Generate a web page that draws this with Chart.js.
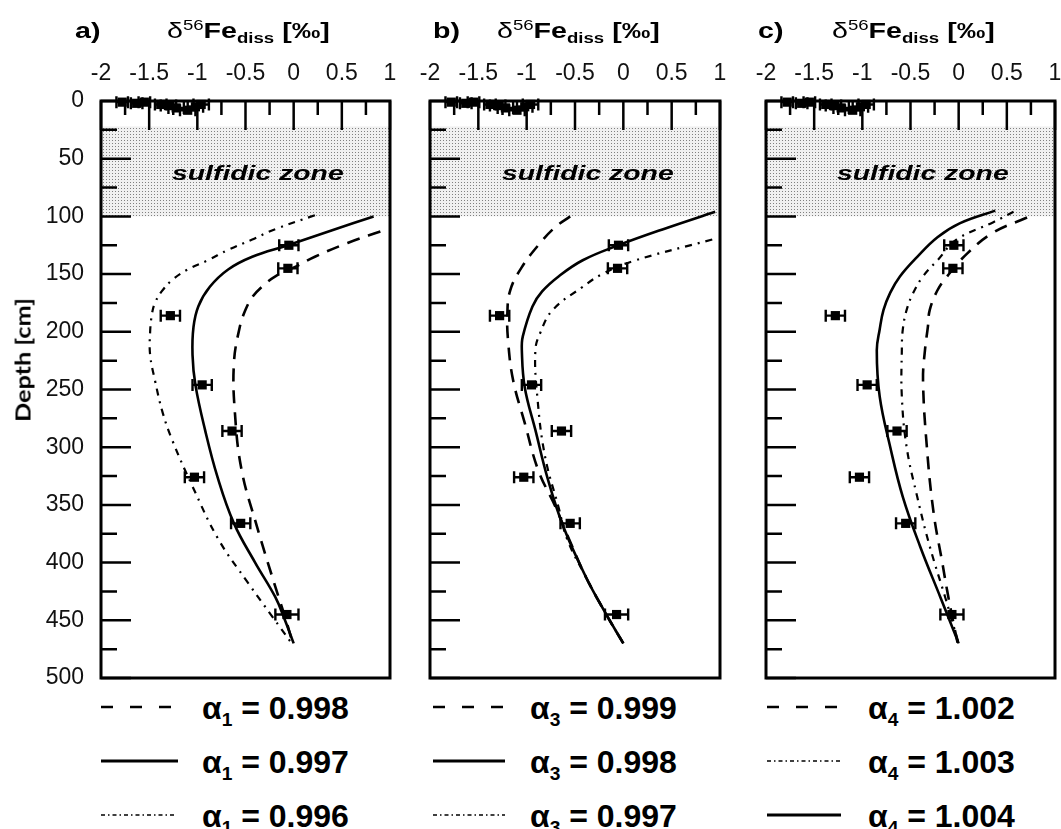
<!DOCTYPE html>
<html>
<head>
<meta charset="utf-8">
<script src="https://cdn.jsdelivr.net/npm/chart.js@4/dist/chart.umd.min.js"></script>
<style>
  body { margin: 0; background: #fff; }
  #wrap { position: relative; width: 1061px; height: 829px; overflow: hidden;
          font-family: "Liberation Sans", Arial, sans-serif; color: #000; }
  canvas { position: absolute; }
  .txt { position: absolute; white-space: nowrap; line-height: 1; transform-origin: 0 0; }
  .ttl { font-size: 22px; font-weight: bold; transform: scaleX(1.3); }
  .ttl sup, .ttl sub { font-size: 0.65em; line-height: 0; }
  .zone { font-size: 21px; font-weight: bold; font-style: italic; transform: scaleX(1.35); }
  .leg { font-size: 32px; font-weight: bold; }
  .leg sub { font-size: 0.6em; line-height: 0; }
  .ylab { font-family: Lato, sans-serif; font-weight: bold; font-size: 21px;
          transform: translate(-50%, -50%) rotate(-90deg) scaleX(1.2); transform-origin: 50% 50%; }
  svg { position: absolute; }
</style>
</head>
<body>
<div id="wrap">
  <canvas id="cA" width="400" height="650" style="left:0;top:40px"></canvas>
  <canvas id="cB" width="330" height="650" style="left:400px;top:40px"></canvas>
  <canvas id="cC" width="325" height="650" style="left:736px;top:40px"></canvas>

  <div class="txt ttl" style="left:75px;top:20px">a)</div>
  <div class="txt ttl" style="left:167px;top:20px"><span style="font-weight:normal">δ<sup>56</sup></span>Fe<sub>diss</sub> [‰]</div>
  <div class="txt ttl" style="left:433px;top:20px">b)</div>
  <div class="txt ttl" style="left:497px;top:20px"><span style="font-weight:normal">δ<sup>56</sup></span>Fe<sub>diss</sub> [‰]</div>
  <div class="txt ttl" style="left:758px;top:20px">c)</div>
  <div class="txt ttl" style="left:832px;top:20px"><span style="font-weight:normal">δ<sup>56</sup></span>Fe<sub>diss</sub> [‰]</div>

  <div class="txt zone" style="left:172px;top:162px">sulfidic zone</div>
  <div class="txt zone" style="left:502px;top:162px">sulfidic zone</div>
  <div class="txt zone" style="left:837px;top:162px">sulfidic zone</div>

  <div class="txt ylab" style="left:22px;top:360px">Depth [cm]</div>

  <!-- legend, panel a -->
  <svg style="left:101px;top:697px" width="80" height="20"><line x1="0" y1="10" x2="70" y2="10" stroke="#000" stroke-width="2.5" stroke-dasharray="12 17"/></svg>
  <svg style="left:101px;top:751px" width="80" height="20"><line x1="0" y1="10" x2="77" y2="10" stroke="#000" stroke-width="3"/></svg>
  <svg style="left:101px;top:805px" width="80" height="20"><line x1="0" y1="10" x2="76" y2="10" stroke="#000" stroke-width="1.5" stroke-dasharray="4 3 1.5 3"/></svg>
  <div class="txt leg" style="left:202px;top:692px">α<sub>1</sub> = 0.998</div>
  <div class="txt leg" style="left:202px;top:746px">α<sub>1</sub> = 0.997</div>
  <div class="txt leg" style="left:202px;top:800px">α<sub>1</sub> = 0.996</div>

  <!-- legend, panel b -->
  <svg style="left:433px;top:697px" width="80" height="20"><line x1="0" y1="10" x2="70" y2="10" stroke="#000" stroke-width="2.5" stroke-dasharray="12 17"/></svg>
  <svg style="left:433px;top:751px" width="80" height="20"><line x1="0" y1="10" x2="72" y2="10" stroke="#000" stroke-width="3"/></svg>
  <svg style="left:433px;top:805px" width="80" height="20"><line x1="0" y1="10" x2="72" y2="10" stroke="#000" stroke-width="1.5" stroke-dasharray="4 3 1.5 3"/></svg>
  <div class="txt leg" style="left:530px;top:692px">α<sub>3</sub> = 0.999</div>
  <div class="txt leg" style="left:530px;top:746px">α<sub>3</sub> = 0.998</div>
  <div class="txt leg" style="left:530px;top:800px">α<sub>3</sub> = 0.997</div>

  <!-- legend, panel c -->
  <svg style="left:767px;top:697px" width="80" height="20"><line x1="0" y1="10" x2="70" y2="10" stroke="#000" stroke-width="2.5" stroke-dasharray="12 17"/></svg>
  <svg style="left:767px;top:751px" width="80" height="20"><line x1="0" y1="10" x2="74" y2="10" stroke="#000" stroke-width="1.5" stroke-dasharray="4 3 1.5 3"/></svg>
  <svg style="left:767px;top:805px" width="80" height="20"><line x1="0" y1="10" x2="74" y2="10" stroke="#000" stroke-width="3"/></svg>
  <div class="txt leg" style="left:868px;top:692px">α<sub>4</sub> = 1.002</div>
  <div class="txt leg" style="left:868px;top:746px">α<sub>4</sub> = 1.003</div>
  <div class="txt leg" style="left:868px;top:800px">α<sub>4</sub> = 1.004</div>
</div>

<script>
// axes
const xTicks = [-2, -1.5, -1, -0.5, 0, 0.5, 1];
const yTicks = [0, 50, 100, 150, 200, 250, 300, 350, 400, 450, 500];
const sulfidicZone = [22, 100]; // depth range, cm

// measured d56Fe_diss (same in every panel)
const obsDepth = [1, 2, 1, 3, 4, 6, 8, 5, 3, 125, 145, 186, 246, 286, 326, 366, 445];
const obsDelta = [-1.78, -1.63, -1.55, -1.38, -1.30, -1.22, -1.10, -1.02, -0.96,
                  -0.05, -0.06, -1.28, -0.95, -0.64, -1.03, -0.55, -0.07];
const obsErr = [0.06, 0.06, 0.06, 0.06, 0.08, 0.08, 0.08, 0.08, 0.08,
                0.1, 0.1, 0.1, 0.1, 0.1, 0.1, 0.1, 0.12];

// a) model curves
const a1_0998_depth = [113, 123, 135, 144, 152, 161, 170, 181, 196, 227, 270, 320, 369, 421, 447, 467];
const a1_0998_delta = [0.9, 0.56, 0.22, 0.01, -0.19, -0.33, -0.43, -0.5, -0.56, -0.62, -0.61, -0.54, -0.38, -0.19, -0.09, -0.02];
const a1_0997_depth = [100, 112, 125, 135, 146, 161, 178, 196, 220, 246, 285, 326, 366, 400, 430, 450, 470];
const a1_0997_delta = [0.83, 0.40, -0.06, -0.43, -0.68, -0.87, -0.99, -1.04, -1.05, -1.02, -0.92, -0.79, -0.62, -0.40, -0.19, -0.09, 0.0];
const a1_0996_depth = [99, 111, 120, 129, 138, 146, 155, 165, 175, 184, 200, 220, 242, 270, 294, 334, 380, 418, 447, 470];
const a1_0996_delta = [0.22, -0.19, -0.43, -0.68, -0.89, -1.1, -1.26, -1.37, -1.44, -1.47, -1.49, -1.49, -1.44, -1.36, -1.26, -1.05, -0.78, -0.47, -0.22, -0.02];

// b) model curves
const a3_0999_depth = [100, 109, 123, 144, 164, 185, 210, 242, 279, 320, 352, 380, 412, 443, 470];
const a3_0999_delta = [-0.55, -0.70, -0.86, -1.05, -1.17, -1.20, -1.19, -1.14, -1.02, -0.88, -0.70, -0.56, -0.39, -0.19, 0.0];
const a3_0998_depth = [96, 110, 125, 138, 152, 165, 178, 204, 216, 248, 285, 328, 369, 412, 443, 470];
const a3_0998_delta = [0.95, 0.45, -0.05, -0.42, -0.67, -0.84, -0.94, -1.04, -1.05, -1.02, -0.91, -0.78, -0.62, -0.39, -0.19, 0.0];
const a3_0997_depth = [120, 139, 150, 161, 181, 201, 216, 256, 308, 352, 380, 412, 443, 470];
const a3_0997_delta = [0.92, 0.09, -0.22, -0.42, -0.73, -0.86, -0.91, -0.89, -0.81, -0.67, -0.58, -0.39, -0.19, 0.0];

// c) model curves
const a4_1002_depth = [101, 114, 132, 152, 164, 181, 196, 216, 242, 300, 357, 400, 424, 450, 470];
const a4_1002_delta = [0.71, 0.36, 0.09, -0.12, -0.22, -0.30, -0.32, -0.35, -0.37, -0.33, -0.26, -0.17, -0.12, -0.06, -0.01];
const a4_1003_depth = [96, 105, 120, 138, 152, 166, 181, 198, 216, 256, 300, 343, 386, 430, 450, 470];
const a4_1003_delta = [0.57, 0.36, -0.02, -0.22, -0.37, -0.47, -0.54, -0.58, -0.59, -0.59, -0.54, -0.43, -0.30, -0.14, -0.07, 0.0];
const a4_1004_depth = [95, 106, 118, 135, 152, 166, 181, 198, 216, 256, 300, 343, 386, 430, 470];
const a4_1004_delta = [0.38, 0.01, -0.22, -0.43, -0.61, -0.71, -0.78, -0.82, -0.85, -0.82, -0.71, -0.58, -0.40, -0.19, 0.0];

const DASH = [13, 9];
const DASHDOT = [7, 6, 2, 6];
const SOLID = [];

function pts(depth, delta) {
  return depth.map((d, i) => ({ x: delta[i], y: d }));
}

function curve(depth, delta, dash) {
  return {
    data: pts(depth, delta),
    showLine: true,
    borderColor: "#000",
    borderWidth: dash === DASHDOT ? 2.2 : 2.6,
    borderDash: dash,
    pointRadius: 0,
    tension: 0.4,
    fill: false,
  };
}

function dotPattern() {
  const c = document.createElement("canvas");
  c.width = 3; c.height = 3;
  const g = c.getContext("2d");
  g.fillStyle = "#f0f0f0";
  g.fillRect(0, 0, 3, 3);
  g.fillStyle = "#808080";
  g.fillRect(1, 1, 1, 1);
  return g.createPattern(c, "repeat");
}

// shaded zone, error bars, boxed frame with inward ticks
const framePlugin = {
  id: "frame",
  beforeDatasetsDraw(chart) {
    const { ctx, chartArea: a, scales: { x, y } } = chart;
    ctx.save();
    ctx.fillStyle = dotPattern();
    const y0 = y.getPixelForValue(sulfidicZone[0]);
    const y1 = y.getPixelForValue(sulfidicZone[1]);
    ctx.fillRect(a.left, y0, a.right - a.left, y1 - y0);

    ctx.strokeStyle = "#000";
    ctx.lineWidth = 2.4;
    chart.data.datasets.forEach((ds) => {
      if (!ds.errX) return;
      ds.data.forEach((p, i) => {
        const py = y.getPixelForValue(p.y);
        const xl = x.getPixelForValue(p.x - ds.errX[i]);
        const xr = x.getPixelForValue(p.x + ds.errX[i]);
        ctx.beginPath();
        ctx.moveTo(xl, py); ctx.lineTo(xr, py);
        ctx.moveTo(xl, py - 6); ctx.lineTo(xl, py + 6);
        ctx.moveTo(xr, py - 6); ctx.lineTo(xr, py + 6);
        ctx.stroke();
      });
    });
    ctx.restore();
  },
  afterDraw(chart) {
    const { ctx, chartArea: a, scales: { x, y } } = chart;
    ctx.save();
    ctx.strokeStyle = "#000";
    ctx.lineWidth = 2.5;
    ctx.beginPath();
    for (let v = -2; v <= 1.001; v += 0.25) {
      const px = x.getPixelForValue(v);
      const len = Math.abs(v * 2 - Math.round(v * 2)) < 1e-6 ? 29 : 14;
      ctx.moveTo(px, a.top); ctx.lineTo(px, a.top + len);
    }
    for (let d = 0; d <= 500; d += 25) {
      const py = y.getPixelForValue(d);
      const len = d % 50 === 0 ? 30 : 16;
      ctx.moveTo(a.left, py); ctx.lineTo(a.left + len, py);
    }
    ctx.stroke();
    ctx.lineWidth = 3;
    ctx.strokeRect(a.left, a.top, a.right - a.left, a.bottom - a.top);
    ctx.restore();
  },
};

const tickFont = { family: "'Liberation Sans', Arial, sans-serif", size: 23 };

function noPad(s) {
  s.paddingLeft = 0; s.paddingRight = 0; s.paddingTop = 0; s.paddingBottom = 0;
}

function makePanel(id, curves, yWidth, padRight, showY) {
  const observed = {
    data: pts(obsDepth, obsDelta),
    errX: obsErr,
    showLine: false,
    pointStyle: "rect",
    pointRadius: 6.5,
    backgroundColor: "#000",
    borderWidth: 0,
    clip: false,
  };
  return new Chart(document.getElementById(id), {
    type: "scatter",
    data: { datasets: [...curves, observed] },
    options: {
      responsive: false,
      animation: false,
      layout: { autoPadding: false, padding: { top: 0, left: 0, right: padRight, bottom: 12 } },
      plugins: { legend: { display: false }, tooltip: { enabled: false } },
      scales: {
        x: {
          type: "linear", position: "top", min: -2, max: 1,
          grid: { display: false }, border: { display: false },
          ticks: { font: tickFont, color: "#111", padding: 6, maxRotation: 0, callback: (v) => String(v) },
          afterBuildTicks: (s) => { s.ticks = xTicks.map((v) => ({ value: v })); },
          afterFit: (s) => { s.height = 61; noPad(s); },
        },
        y: {
          type: "linear", reverse: true, min: 0, max: 500,
          grid: { display: false }, border: { display: false },
          ticks: { display: showY, font: tickFont, color: "#111", padding: 9, callback: (v) => String(v) },
          afterBuildTicks: (s) => { s.ticks = yTicks.map((v) => ({ value: v })); },
          afterFit: (s) => { s.width = yWidth; noPad(s); },
        },
      },
    },
    plugins: [framePlugin],
  });
}

makePanel("cA", [
  curve(a1_0998_depth, a1_0998_delta, DASH),
  curve(a1_0997_depth, a1_0997_delta, SOLID),
  curve(a1_0996_depth, a1_0996_delta, DASHDOT),
], 101, 10, true);

makePanel("cB", [
  curve(a3_0999_depth, a3_0999_delta, DASH),
  curve(a3_0998_depth, a3_0998_delta, SOLID),
  curve(a3_0997_depth, a3_0997_delta, DASHDOT),
], 30, 10, false);

makePanel("cC", [
  curve(a4_1002_depth, a4_1002_delta, DASH),
  curve(a4_1003_depth, a4_1003_delta, DASHDOT),
  curve(a4_1004_depth, a4_1004_delta, SOLID),
], 30, 6, false);
</script>
</body>
</html>
